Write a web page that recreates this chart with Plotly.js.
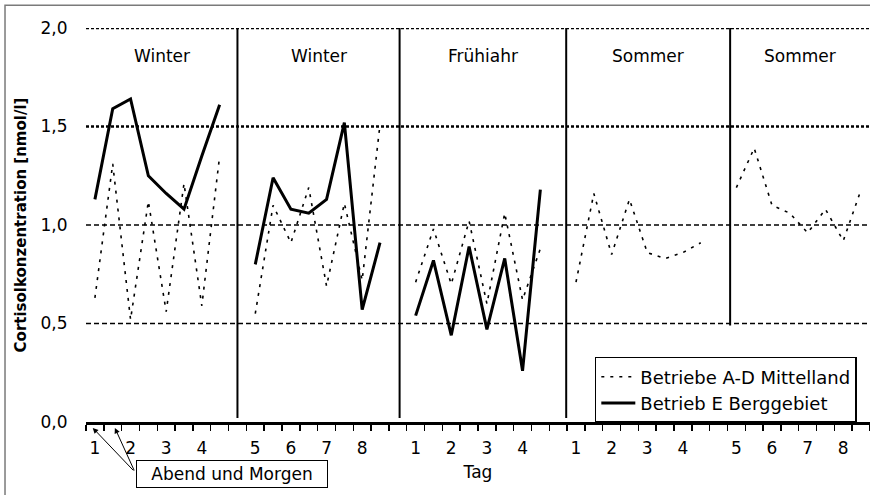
<!DOCTYPE html>
<html>
<head>
<meta charset="utf-8">
<script src="https://cdn.plot.ly/plotly-3.0.1.min.js"></script>
<style>
html,body{margin:0;padding:0;background:#fff;}
#chart{width:870px;height:495px;}
</style>
</head>
<body>
<div id="chart"></div>
<script>
// One slot per measurement (evening, morning); '' = unlabeled slot or gap between blocks
const slotLabels = ['1','','2','','3','','4','','',
                    '5','','6','','7','','8','','',
                    '1','','2','','3','','4','','',
                    '1','','2','','3','','4','','',
                    '5','','6','','7','','8',''];

const seriesNames = ['Betriebe A-D Mittelland', 'Betrieb E Berggebiet'];

const mittelland = [0.63,1.31,0.52,1.12,0.56,1.21,0.59,1.35,null,
                    0.55,1.10,0.91,1.19,0.69,1.11,0.72,1.51,null,
                    0.71,0.98,0.70,1.02,0.60,1.06,0.62,0.88,null,
                    0.71,1.16,0.85,1.13,0.86,0.83,0.86,0.91,null,
                    1.19,1.39,1.10,1.06,0.96,1.08,0.92,1.18];

const berggebiet = [1.13,1.59,1.64,1.25,1.16,1.08,1.35,1.61,null,
                    0.80,1.24,1.08,1.06,1.13,1.52,0.57,0.91,null,
                    0.54,0.82,0.44,0.89,0.47,0.83,0.26,1.18,null,
                    null,null,null,null,null,null,null,null,null,
                    null,null,null,null,null,null,null,null];

const seasons = ['Winter', 'Winter', 'Frühiahr', 'Sommer', 'Sommer'];
const blockEdges = [-0.5, 8, 17.1, 26.45, 35.65, 43.5];
const yTicks = [0, 0.5, 1.0, 1.5, 2.0];

const xTitle = 'Tag';
const yTitle = 'Cortisolkonzentration [nmol/l]';
const noteText = 'Abend und Morgen';

// ---- derived ----
const slotIdx = slotLabels.map((_, i) => i);
const dayVals = [], dayText = [];
slotLabels.forEach((l, i) => { if (l !== '') { dayVals.push(i); dayText.push(l); } });
const boundaries = [];
for (let i = 0; i <= slotLabels.length; i++) boundaries.push(i - 0.5);
const xRange = [-0.5, slotLabels.length - 0.5];

const traces = [
  {x: slotIdx, y: mittelland, name: seriesNames[0], type: 'scatter', mode: 'lines',
   line: {color: '#000', width: 1.6, dash: '3px,6px'}, connectgaps: false, hoverinfo: 'skip'},
  {x: slotIdx, y: berggebiet, name: seriesNames[1], type: 'scatter', mode: 'lines',
   line: {color: '#000', width: 3}, connectgaps: false, hoverinfo: 'skip'},
  // carrier for the day-label axis
  {x: [], y: [], xaxis: 'x2', yaxis: 'y', type: 'scatter', mode: 'lines', showlegend: false, hoverinfo: 'skip'}
];

const shapes = [];
// horizontal reference lines
yTicks.filter(v => v > 0).forEach(v => {
  const heavy = v >= 1.5;
  shapes.push({type: 'line', xref: 'paper', yref: 'y', x0: 0, x1: 1, y0: v, y1: v, layer: 'below',
    line: {color: '#000', width: heavy ? 2.6 : 1.5, dash: heavy ? '3px,2px' : '5px,3px'}});
});
// block separators
const sepBottoms = [0.02, 0.02, 0.02, 0.49];
blockEdges.slice(1, -1).forEach((e, i) => {
  shapes.push({type: 'line', xref: 'x', yref: 'y', x0: e, x1: e, y0: sepBottoms[i], y1: 2,
    layer: 'below', line: {color: '#000', width: 2}});
});
// outer frame
shapes.push({type: 'rect', xref: 'paper', yref: 'paper', x0: -0.1033, x1: 1.06, y0: -0.3, y1: 1.058,
  line: {color: '#7a7a7a', width: 1.5}, fillcolor: 'rgba(0,0,0,0)', layer: 'below'});

const annotations = [];
seasons.forEach((s, i) => {
  annotations.push({xref: 'x', yref: 'y', x: (blockEdges[i] + blockEdges[i + 1]) / 2, y: 1.86,
    text: s, showarrow: false, font: {size: 17, color: '#000'}});
});
annotations.push({xref: 'paper', yref: 'paper', x: 0.186, y: -0.132, xanchor: 'center', yanchor: 'middle',
  text: noteText, showarrow: false, width: 186, height: 22, borderpad: 2,
  bordercolor: '#000', borderwidth: 1, bgcolor: '#fff', font: {size: 17, color: '#000'}});
[[-0.12, 42], [1.12, 20]].forEach(a => {
  annotations.push({xref: 'x', yref: 'paper', x: a[0], y: -0.015, text: '', showarrow: true,
    ax: a[1], ay: 44, arrowhead: 2, arrowsize: 1.1, arrowwidth: 1, arrowcolor: '#000'});
});

const layout = {
  width: 870, height: 495,
  margin: {l: 86, r: 0, t: 28, b: 73, pad: 0},
  paper_bgcolor: '#fff', plot_bgcolor: '#fff',
  separators: ',.',
  font: {family: 'DejaVu Sans, Arial, sans-serif', size: 17, color: '#000'},
  showlegend: true,
  legend: {x: 0.649, y: 0.165, xanchor: 'left', yanchor: 'top', bgcolor: '#fff',
    bordercolor: '#000', borderwidth: 1.5, font: {size: 18, color: '#000'}, tracegroupgap: 0,
    itemwidth: 34},
  xaxis: {range: xRange, tickmode: 'array', tickvals: boundaries, ticktext: boundaries.map(() => ''),
    ticks: 'outside', ticklen: 6, tickwidth: 1.5, tickcolor: '#000',
    showline: true, linecolor: '#000', linewidth: 2.5,
    showgrid: false, zeroline: false, fixedrange: true},
  xaxis2: {overlaying: 'x', anchor: 'y', side: 'bottom', range: xRange, tickmode: 'array',
    tickvals: dayVals, ticktext: dayText, ticks: 'outside', ticklen: 11, tickcolor: 'rgba(0,0,0,0)',
    showline: false, showgrid: false, zeroline: false, fixedrange: true, tickfont: {size: 17},
    title: {text: xTitle, standoff: 8, font: {size: 17}}},
  yaxis: {range: [0, 2], tickmode: 'array', tickvals: yTicks, tickformat: '.1f',
    ticks: 'outside', ticklen: 14, tickcolor: 'rgba(0,0,0,0)', showline: false, showgrid: false,
    zeroline: false, fixedrange: true, tickfont: {size: 17},
    title: {text: yTitle, standoff: 10, font: {size: 15, weight: 'bold'}}},
  shapes: shapes,
  annotations: annotations
};

Plotly.newPlot('chart', traces, layout, {staticPlot: true, displayModeBar: false});
</script>
</body>
</html>
